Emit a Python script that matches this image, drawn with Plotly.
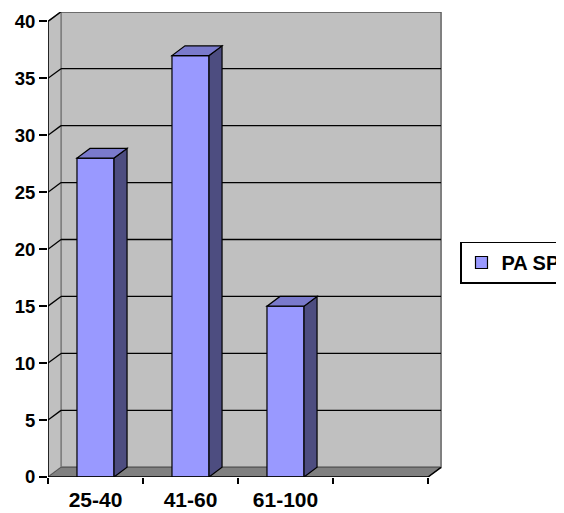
import plotly.graph_objects as go

# ---- data ----
categories = ["25-40", "41-60", "61-100", ""]
values = [28, 37, 15]
series_name = "PA SP"
y_ticks = [0, 5, 10, 15, 20, 25, 30, 35, 40]

# ---- style ----
FRONT = "#9999FF"
TOP = "#7A7ACC"
SIDE = "#4D4D80"
WALL = "#C0C0C0"
FLOOR = "#808080"
EDGE = "#808080"
FONT = "Liberation Sans, Arial, sans-serif"

DX = 0.137      # depth offset (category units)
DY = 0.85       # depth offset (value units)
BAR_W = 0.39
x_left = -0.5
x_right = len(categories) - 0.5
y_max = y_ticks[-1]

# the page body has an 8px margin, so the figure is 8px smaller than the window
W, H = 556, 505
ML, MR, MT, MB = 40, 122, 4, 36
px_per_cat = 95.0
px_per_unit = 11.39
plot_w = W - ML - MR
plot_h = H - MT - MB
x_range = [x_left, x_left + plot_w / px_per_cat]
y_range = [0, plot_h / px_per_unit]


def poly(pts):
    return "M " + " L ".join(f"{x},{y}" for x, y in pts) + " Z"


shapes = []
# back wall
shapes.append(dict(type="rect", xref="x", yref="y", x0=x_left + DX, x1=x_right + DX,
                   y0=DY, y1=y_max + DY, fillcolor=WALL,
                   line=dict(color=EDGE, width=2), layer="below"))
# side wall
shapes.append(dict(type="path", xref="x", yref="y",
                   path=poly([(x_left, 0), (x_left + DX, DY), (x_left + DX, y_max + DY), (x_left, y_max)]),
                   fillcolor=WALL, line=dict(color=EDGE, width=1.5), layer="below"))
# gridlines on back and side walls
for v in y_ticks[1:]:
    shapes.append(dict(type="line", xref="x", yref="y", x0=x_left + DX, x1=x_right + DX,
                       y0=v + DY, y1=v + DY, line=dict(color="black", width=1.3), layer="below"))
    shapes.append(dict(type="line", xref="x", yref="y", x0=x_left, x1=x_left + DX,
                       y0=v, y1=v + DY, line=dict(color="black", width=1.3), layer="below"))
# floor
shapes.append(dict(type="path", xref="x", yref="y",
                   path=poly([(x_left, 0), (x_right, 0), (x_right + DX, DY), (x_left + DX, DY)]),
                   fillcolor=FLOOR, line=dict(color="#555555", width=1), layer="below"))
# front axis lines
shapes.append(dict(type="line", xref="x", yref="y", x0=x_left, x1=x_left, y0=0, y1=y_max,
                   line=dict(color="black", width=1.5), layer="above"))
shapes.append(dict(type="line", xref="x", yref="y", x0=x_left, x1=x_right, y0=0, y1=0,
                   line=dict(color="black", width=1.5), layer="above"))
shapes.append(dict(type="line", xref="x", yref="y", x0=x_right, x1=x_right + DX, y0=0, y1=DY,
                   line=dict(color="black", width=1.5), layer="above"))

# bar side and top faces
for i, v in enumerate(values):
    l, r = i - BAR_W / 2, i + BAR_W / 2
    shapes.append(dict(type="path", xref="x", yref="y",
                       path=poly([(r, 0), (r, v), (r + DX, v + DY), (r + DX, DY)]),
                       fillcolor=SIDE, line=dict(color="black", width=1.2), layer="above"))
    shapes.append(dict(type="path", xref="x", yref="y",
                       path=poly([(l, v), (r, v), (r + DX, v + DY), (l + DX, v + DY)]),
                       fillcolor=TOP, line=dict(color="black", width=1.2), layer="above"))

fig = go.Figure()
fig.add_trace(go.Bar(
    x=list(range(len(values))), y=values, width=BAR_W, name=series_name,
    marker=dict(color=FRONT, line=dict(color="black", width=1.2)),
    showlegend=True, hoverinfo="skip",
))

fig.update_layout(
    width=W, height=H,
    margin=dict(l=ML, r=MR, t=MT, b=MB, pad=0, autoexpand=False),
    paper_bgcolor="white", plot_bgcolor="white",
    shapes=shapes,
    showlegend=True,
    legend=dict(x=(452 - ML) / plot_w, y=(H - MB - 254.5) / plot_h,
                xanchor="left", yanchor="middle",
                bordercolor="black", borderwidth=1.5, bgcolor="white",
                font=dict(family=FONT, size=20, color="black", weight="bold")),
    xaxis=dict(range=x_range, showgrid=False, zeroline=False, showline=False,
               tickvals=list(range(len(categories))), ticktext=categories,
               ticks="", ticklabelstandoff=8,
               tickfont=dict(family=FONT, size=21, color="black", weight="bold"),
               minor=dict(tickvals=[k - 0.5 for k in range(len(categories) + 1)],
                          ticks="outside", ticklen=6, tickwidth=1.5, tickcolor="black",
                          showgrid=False),
               automargin=False, fixedrange=True),
    yaxis=dict(range=y_range, showgrid=False, zeroline=False, showline=False,
               tickvals=y_ticks, ticks="outside", ticklen=8, tickwidth=1.5, tickcolor="black",
               tickfont=dict(family=FONT, size=18.5, color="black", weight="bold"),
               automargin=False, fixedrange=True),
)

fig.write_html("out.html")
